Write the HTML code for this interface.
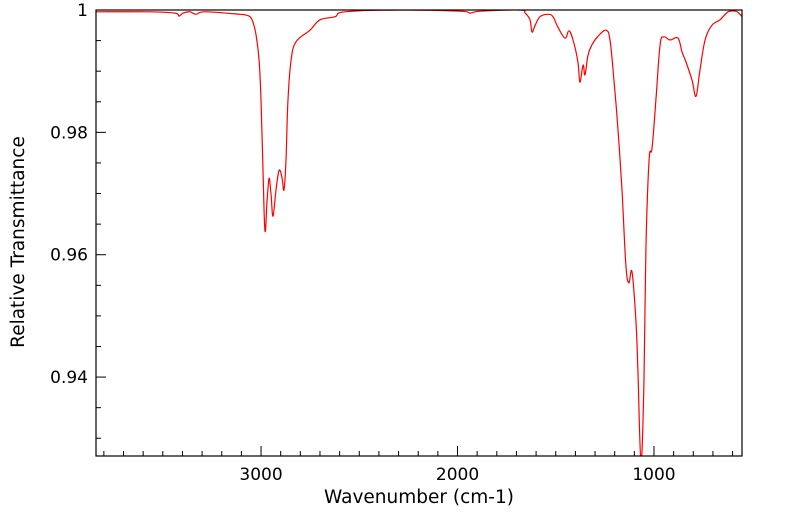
<!DOCTYPE html>
<html><head><meta charset="utf-8"><style>
html,body{margin:0;padding:0;background:#fff;}
svg{display:block;font-family:"DejaVu Sans","Liberation Sans",sans-serif;}
</style></head><body>
<svg id="chart" width="799" height="516">
<defs><clipPath id="clip"><rect x="96" y="10" width="646" height="446"/></clipPath></defs>
<g id="grid"></g>
<path id="line" fill="none" stroke="#ff0000" stroke-width="1.2" clip-path="url(#clip)"/>
<rect x="96" y="10" width="646" height="446" fill="none" stroke="#000" stroke-width="1.2"/>
<text x="419" y="503" text-anchor="middle" font-size="18.5">Wavenumber (cm-1)</text>
<text transform="translate(24,242) rotate(-90)" text-anchor="middle" font-size="18.5">Relative Transmittance</text>
</svg>
<script>
const wavenumbers=[3840,3565,3438,3417,3397,3361,3331,3285,3107,3081,3056,3041,3025,3010,3000,2990,2980,2969,2959,2949,2939,2924,2908,2893,2883,2873,2863,2847,2822,2751,2700,2623,2573,2293,1987,1936,1885,1682,1656,1631,1621,1605,1580,1539,1514,1489,1453,1433,1412,1387,1377,1361,1351,1336,1316,1285,1244,1224,1204,1183,1163,1143,1128,1112,1092,1082,1066,1051,1041,1025,1010,990,969,949,918,878,857,837,806,786,766,740,705,664,623,583,562,552];
const transmittance=[0.9997,0.9997,0.9995,0.9990,0.9995,0.9997,0.9993,0.9997,0.9993,0.9992,0.9989,0.9980,0.9959,0.9918,0.9853,0.9738,0.9639,0.9689,0.9725,0.9698,0.9663,0.9706,0.9738,0.9725,0.9706,0.9755,0.9853,0.9918,0.9948,0.9967,0.9984,0.9989,0.9997,1.0000,0.9998,0.9995,0.9998,1.0000,0.9995,0.9984,0.9964,0.9975,0.9989,0.9993,0.9989,0.9972,0.9954,0.9966,0.9951,0.9915,0.9882,0.9910,0.9894,0.9926,0.9943,0.9957,0.9967,0.9951,0.9886,0.9804,0.9706,0.9583,0.9554,0.9572,0.9493,0.9411,0.9262,0.9395,0.9608,0.9755,0.9774,0.9853,0.9943,0.9956,0.9951,0.9954,0.9931,0.9915,0.9885,0.9859,0.9902,0.9951,0.9975,0.9984,0.9997,0.9998,0.9993,0.9989];
const xTicks=[3000,2000,1000];
const yTicks=[0.94,0.96,0.98,1];
const yTickLabels=["0.94","0.96","0.98","1"];
const X0=3840,X1=552,Y0=0.9271,Y1=1.0;
const L=96,R=742,T=10,B=456;
function sx(v){return L+(X0-v)/(X0-X1)*(R-L);}
function sy(v){return B-(v-Y0)/(Y1-Y0)*(B-T);}
const NS="http://www.w3.org/2000/svg";
const pts=wavenumbers.map((w,i)=>[sx(w),sy(transmittance[i])]);
let d="M"+pts[0][0].toFixed(1)+","+pts[0][1].toFixed(1);
const k=0.18;
for(let i=0;i<pts.length-1;i++){
  const p0=pts[Math.max(0,i-1)],p1=pts[i],p2=pts[i+1],p3=pts[Math.min(pts.length-1,i+2)];
  const c1x=p1[0]+(p2[0]-p0[0])*k,c1y=p1[1]+(p2[1]-p0[1])*k;
  const c2x=p2[0]-(p3[0]-p1[0])*k,c2y=p2[1]-(p3[1]-p1[1])*k;
  d+="C"+c1x.toFixed(1)+","+c1y.toFixed(1)+" "+c2x.toFixed(1)+","+c2y.toFixed(1)+" "+p2[0].toFixed(1)+","+p2[1].toFixed(1);
}
document.getElementById('line').setAttribute('d',d);
const g=document.getElementById('grid');
function ln(x1,y1,x2,y2,name){const l=document.createElementNS(NS,'line');l.setAttribute('x1',x1);l.setAttribute('y1',y1);l.setAttribute('x2',x2);l.setAttribute('y2',y2);l.setAttribute('stroke','#000');l.setAttribute('stroke-width','1');


g.appendChild(l);}
function tx(x,y,s,anchor,name){const t=document.createElementNS(NS,'text');t.setAttribute('x',x);t.setAttribute('y',y);t.setAttribute('text-anchor',anchor);t.setAttribute('font-size','17');t.textContent=s;


g.appendChild(t);}
for(let w=600;w<=3800;w+=100){const x=sx(w);const major=w%1000===0;ln(x,B,x,B-(major?10:5),major?'x-major-tick':'x-minor-tick');}
xTicks.forEach(w=>tx(sx(w),480,String(w),'middle','x-tick-label'));
for(let j=0;j<=14;j++){const v=0.93+j*0.005;if(v>Y1+1e-9)break;const y=sy(v);const major=Math.abs(v*50-Math.round(v*50))<1e-6;ln(L,y,L+(major?10:5),y,major?'y-major-tick':'y-minor-tick');}
yTicks.forEach((v,i)=>tx(L-8,sy(v)+6,yTickLabels[i],'end','y-tick-label'));
</script>
</body></html>
